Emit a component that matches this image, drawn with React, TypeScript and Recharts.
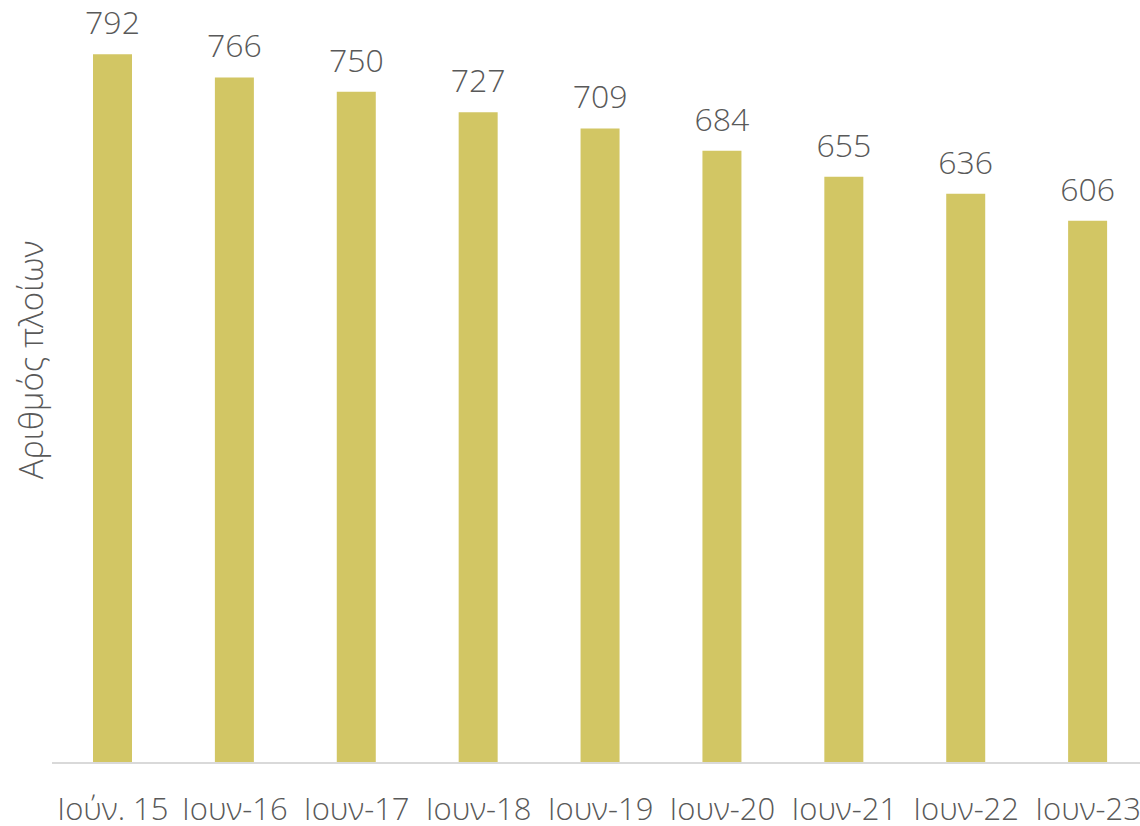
import { BarChart, Bar, XAxis, YAxis, LabelList, Label } from 'recharts'

const months = ['Ιούν. 15', 'Ιουν-16', 'Ιουν-17', 'Ιουν-18', 'Ιουν-19', 'Ιουν-20', 'Ιουν-21', 'Ιουν-22', 'Ιουν-23']
const vessels = [792, 766, 750, 727, 709, 684, 655, 636, 606]

const FONT = '"Open Sans", "Noto Sans", sans-serif'
const TEXT = '#595959'

const data = months.map((m, i) => ({ month: m, vessels: vessels[i] }))

function AxisTitle(props: any) {
  const vb = props.viewBox || { x: 0, y: 0, width: 0, height: 0 }
  const cx = vb.x + 31
  const cy = vb.y + vb.height * 0.437
  return (
    <text
      x={cx}
      y={cy}
      transform={`rotate(-90, ${cx}, ${cy})`}
      textAnchor="middle"
      dominantBaseline="central"
      fill={TEXT}
      fontFamily={FONT}
      fontWeight={300}
      fontSize={33}
    >
      Αριθμός πλοίων
    </text>
  )
}

export default function App() {
  return (
    <div style={{ width: 1140, height: 826, background: '#ffffff', overflow: 'hidden' }}>
      <style>{'body { margin: 0; }'}</style>
      <BarChart
        width={1149}
        height={826}
        data={data}
        margin={{ top: 47, right: 0, bottom: 0, left: 0 }}
      >
        <XAxis
          dataKey="month"
          height={63}
          axisLine={{ stroke: '#d9d9d9', strokeWidth: 2 }}
          tickLine={false}
          interval={0}
          tick={{ fill: TEXT, fontSize: 31, fontFamily: FONT, fontWeight: 300 }}
          dy={27}
        />
        <YAxis
          width={52}
          domain={[0, 800]}
          axisLine={false}
          tickLine={false}
          tick={false}
        >
          <Label content={<AxisTitle />} />
        </YAxis>
        <Bar dataKey="vessels" fill="#d2c664" barSize={39} isAnimationActive={false}>
          <LabelList
            dataKey="vessels"
            position="top"
            offset={20}
            fill={TEXT}
            fontSize={32}
            fontFamily={FONT}
            fontWeight={300}
          />
        </Bar>
      </BarChart>
    </div>
  )
}
